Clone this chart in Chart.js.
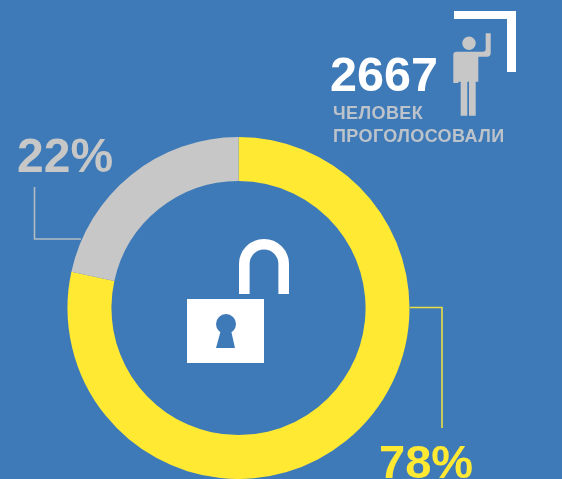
<!DOCTYPE html>
<html><head><meta charset="utf-8">
<script src="https://cdn.jsdelivr.net/npm/chart.js@4"></script>
<style>
html,body{margin:0;padding:0;background:#3f7ab8;overflow:hidden;width:562px;height:479px}
#wrap{position:relative;width:562px;height:479px;overflow:hidden}
canvas{position:absolute;left:0;top:0}
svg{position:absolute;left:0;top:0}
.t{position:absolute;font-family:"Liberation Sans",Arial,sans-serif;font-weight:700;white-space:nowrap;line-height:1}
</style></head>
<body><div id="wrap">
<canvas id="c" width="562" height="479"></canvas>
<svg width="562" height="479" viewBox="0 0 562 479">
  <path d="M34.5 187V239H81" fill="none" stroke="#c6c7c6" stroke-width="1.6" opacity=".85"/>
  <path d="M410 307.5H442V428" fill="none" stroke="#ffe933" stroke-width="1.6" opacity=".9"/>
  <path d="M454 11H516V72H507V19H454Z" fill="#fff"/>
  <circle cx="469" cy="43.3" r="6.7" fill="#c6c7c6"/>
  <path d="M456.5 51.7H483Q485.7 51.7 485.7 49V33.3H490.7V53Q490.7 56.7 487 56.7H478.3V81.7H475.7V115.7H469V81.7H467.3V115.7H460.7V81.7H458.3V83H453.3V55Q453.3 51.7 456.5 51.7Z" fill="#c6c7c6"/>
  <path d="M187 299H264V363H187Z" fill="#fff"/>
  <circle cx="226" cy="324" r="10" fill="#3f7ab8"/>
  <path d="M221.5 328H230.5L235 348H216Z" fill="#3f7ab8"/>
  <path d="M244.3 294V264A19.7 19.7 0 0 1 283.7 264V294" fill="none" stroke="#fff" stroke-width="10.6"/>
</svg>
<div class="t" id="total" style="left:330px;top:50px;font-size:48.5px;color:#fff"></div>
<div class="t" id="sub1" style="left:333px;top:104px;font-size:18px;letter-spacing:.4px;color:#bcc3ca"></div>
<div class="t" id="sub2" style="left:333px;top:127px;font-size:18px;letter-spacing:.4px;color:#bcc3ca"></div>
<div class="t" id="lab2" style="left:17px;top:132px;font-size:48px;color:#c6c7c6"></div>
<div class="t" id="lab1" style="left:379px;top:438px;font-size:47px;color:#ffe933"></div>
</div>
<script>
const categories = ['78%', '22%'];
const values = [78.4, 21.6];
const colors = ['#ffe933', '#c6c7c6'];
const totalVotes = '2667';
const subtitle = ['ЧЕЛОВЕК', 'ПРОГОЛОСОВАЛИ'];

document.getElementById('total').textContent = totalVotes;
document.getElementById('sub1').textContent = subtitle[0];
document.getElementById('sub2').textContent = subtitle[1];
document.getElementById('lab1').textContent = categories[0];
document.getElementById('lab2').textContent = categories[1];

new Chart(document.getElementById('c'), {
  type: 'doughnut',
  data: { labels: categories, datasets: [{ data: values, backgroundColor: colors, borderWidth: 0 }] },
  options: {
    responsive: false,
    animation: false,
    cutout: '74.3%',
    layout: { padding: { left: 67, right: 152, top: 137, bottom: 0 } },
    plugins: { legend: { display: false }, tooltip: { enabled: false } }
  }
});
</script>
</body></html>
